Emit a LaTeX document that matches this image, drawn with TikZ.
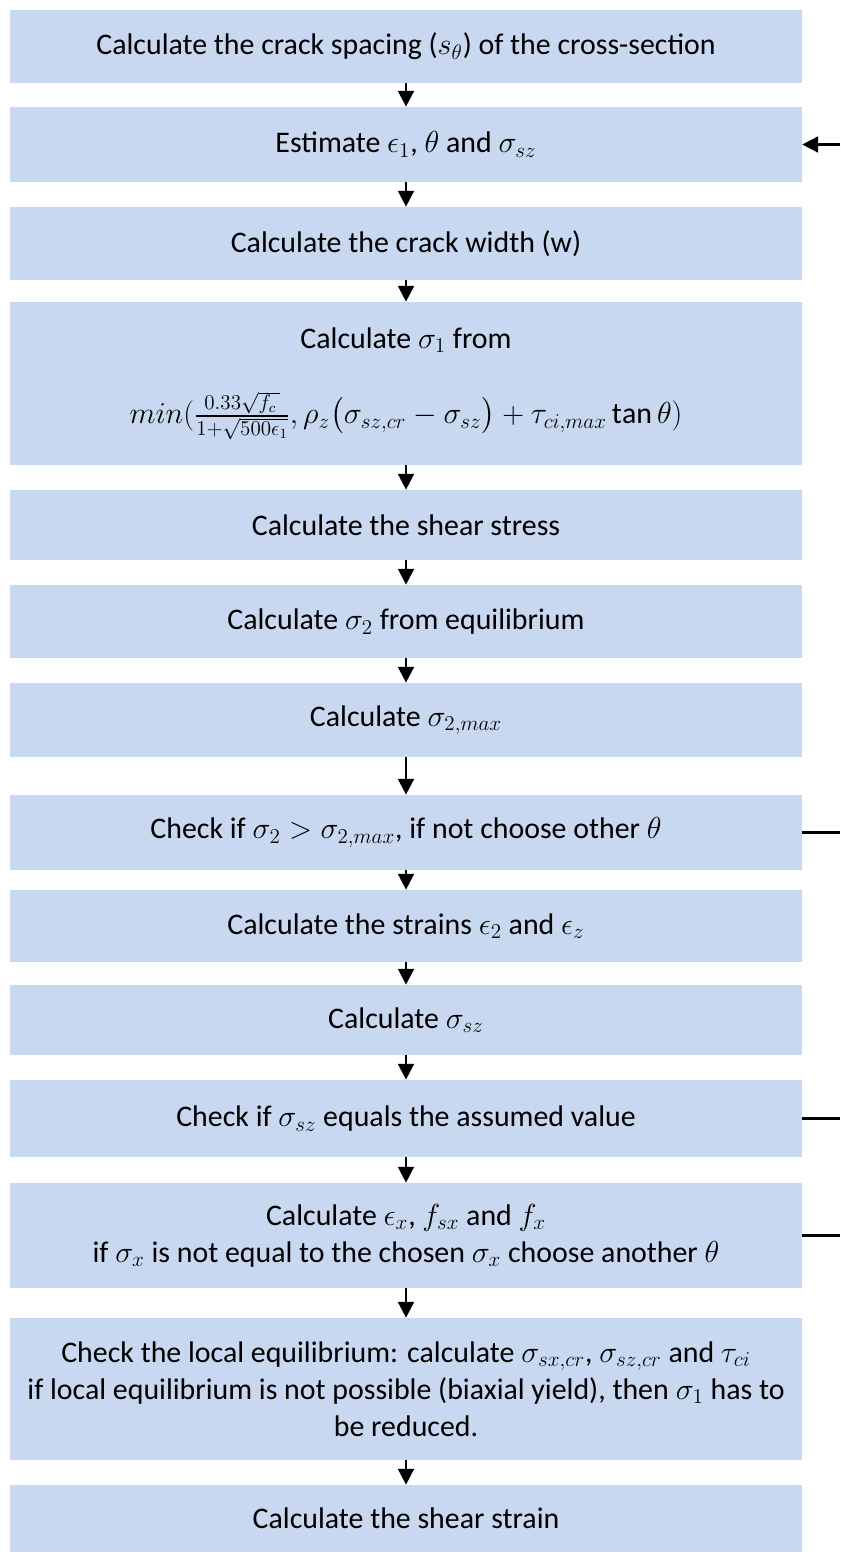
\documentclass[tikz,border=0pt]{standalone}
\usepackage{amsmath}
\usepackage{fontspec}
\setmainfont{Carlito}
\usetikzlibrary{arrows.meta}
\definecolor{boxblue}{RGB}{199,216,240}

\begin{document}
\begin{tikzpicture}[x=0.02cm,y=-0.02cm,
                        box/.style={fill=boxblue,minimum width=15.84cm,inner sep=0pt,align=center,font=\fontsize{17}{21}\selectfont},
                        flow/.style={-{Triangle[width=9pt,length=9pt]},line width=1.4pt},
                        back/.style={line width=1.4pt}]
                        \useasboundingbox(0,0)rectangle(840,1557);
                        \node[box,minimum height=1.46cm](spacing)at(406,46.5){Calculate the crack spacing ($s_\theta$) of the cross-section};
                        \node[box,minimum height=1.50cm](estimate)at(406,144.5){Estimate $\epsilon_1$, $\theta$ and $\sigma_{sz}$};
                        \node[box,minimum height=1.46cm](width)at(406,243.5){Calculate the crack width (w)};
                        \node[box,minimum height=3.26cm](sigmaone)at(406,383.5){Calculate $\sigma_1$ from\\[22pt]$min(\frac{0.33\sqrt{f_c\,}}{1+\sqrt{500\epsilon_1}},\rho_z\bigl(\sigma_{sz,cr}-\sigma_{sz}\bigr)+\tau_{ci,max}\tan\theta)$};
                        \node[box,minimum height=1.40cm](shear)at(406,525){Calculate the shear stress};
                        \node[box,minimum height=1.46cm](sigmatwo)at(406,621.5){Calculate $\sigma_2$ from equilibrium};
                        \node[box,minimum height=1.48cm](sigmamax)at(406,720){Calculate $\sigma_{2,max}$};
                        \node[box,minimum height=1.50cm](checkmax)at(406,832.5){Check if $\sigma_2>\sigma_{2,max}$, if not choose other $\theta$};
                        \node[box,minimum height=1.44cm](strains)at(406,926){Calculate the strains $\epsilon_2$ and $\epsilon_z$};
                        \node[box,minimum height=1.40cm](sigmasz)at(406,1020){Calculate $\sigma_{sz}$};
                        \node[box,minimum height=1.54cm](checksz)at(406,1118.5){Check if $\sigma_{sz}$ equals the assumed value};
                        \node[box,minimum height=2.10cm](epsx)at(406,1235.5){Calculate $\epsilon_x$, $f_{sx}$ and $f_x$\\if $\sigma_x$ is not equal to the chosen $\sigma_x$ choose another $\theta$};
                        \node[box,minimum height=2.84cm](localeq)at(406,1389){Check the local equilibrium: calculate $\sigma_{sx,cr}$, $\sigma_{sz,cr}$ and $\tau_{ci}$\\if local equilibrium is not possible (biaxial yield), then $\sigma_1$ has to\\be reduced.};
                        \node[box,minimum height=1.34cm](shearstrain)at(406,1518.5){Calculate the shear strain};
                        \draw[flow](spacing)--(estimate);
                        \draw[flow](estimate)--(width);
                        \draw[flow](width)--(sigmaone);
                        \draw[flow](sigmaone)--(shear);
                        \draw[flow](shear)--(sigmatwo);
                        \draw[flow](sigmatwo)--(sigmamax);
                        \draw[flow](sigmamax)--(checkmax);
                        \draw[flow](checkmax)--(strains);
                        \draw[flow](strains)--(sigmasz);
                        \draw[flow](sigmasz)--(checksz);
                        \draw[flow](checksz)--(epsx);
                        \draw[flow](epsx)--(localeq);
                        \draw[flow](localeq)--(shearstrain);
                        \coordinate(R1)at(840,144.5);
                        \coordinate(R2)at(840,832.5);
                        \coordinate(R3)at(840,1118.5);
                        \coordinate(R4)at(840,1235.5);
                        \draw[flow](R1)--(estimate.east);
                        \draw[back](checkmax.east)--(R2);
                        \draw[back](checksz.east)--(R3);
                        \draw[back](epsx.east)--(R4);
                    \end{tikzpicture}
\end{document}
